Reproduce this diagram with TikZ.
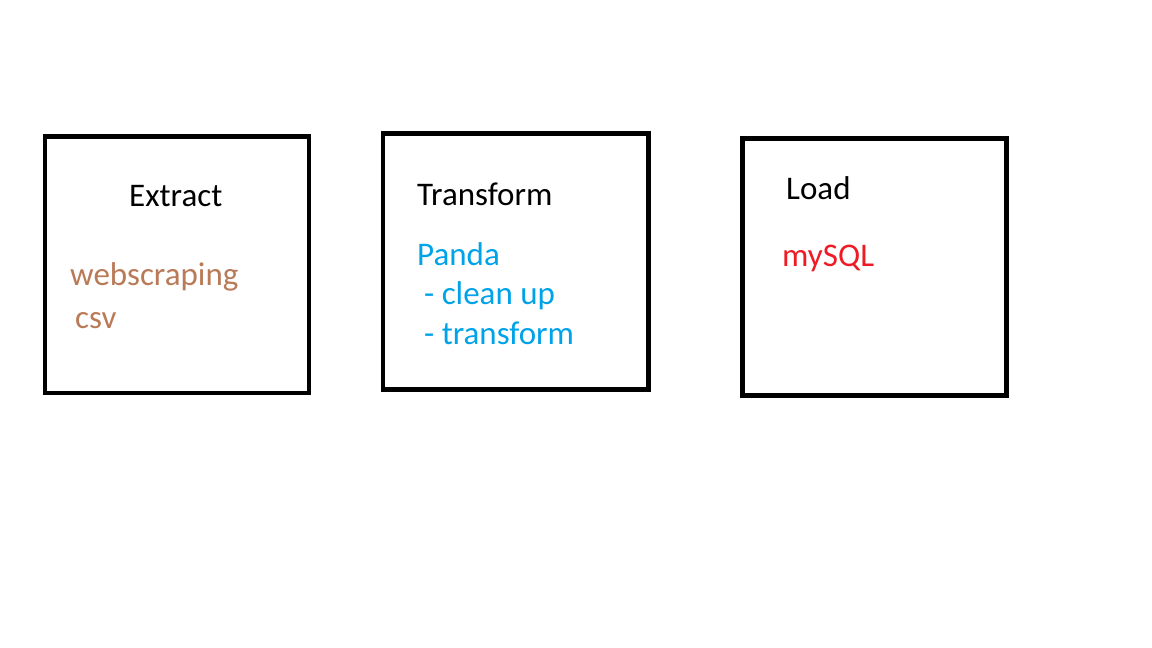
\documentclass[tikz,border=0pt]{standalone}
\usepackage{fontspec}
\setmainfont{Carlito}
\definecolor{paintbrown}{RGB}{185,122,87}
\definecolor{paintblue}{RGB}{0,162,232}
\definecolor{paintred}{RGB}{237,28,36}
\begin{document}
\begin{tikzpicture}[x=1pt,y=-1pt,
  stagebox/.style={draw=black,line width=4.5pt,rectangle,inner sep=0pt},
  lbl/.style={anchor=base west,inner sep=0pt,font=\fontsize{33}{39}\selectfont}]
\useasboundingbox (0,0) rectangle (1152,648);
% boxes
\node[stagebox,minimum width=264pt,minimum height=256.5pt] (ext) at (177,264.75) {};
\node[stagebox,minimum width=265.5pt,minimum height=256.4pt] (tra) at (515.75,261.5) {};
\node[stagebox,minimum width=264.2pt,minimum height=256.8pt] (lod) at (874.6,267.1) {};
% Extract
\node[lbl] (extT) at (129,206) {Extract};
\node[lbl,text=paintbrown] (ext1) at (70,285) {webscraping};
\node[lbl,text=paintbrown] (ext2) at (75,328) {csv};
% Transform
\node[lbl] (traT) at (417,205) {Transform};
\node[lbl,text=paintblue] (tra1) at (417,265) {Panda};
\node[lbl,text=paintblue] (tra2) at (424,304) {- clean up};
\node[lbl,text=paintblue] (tra3) at (424,344) {- transform};
% Load
\node[lbl] (lodT) at (786,199) {Load};
\node[lbl,text=paintred] (lod1) at (782,266) {mySQL};
\end{tikzpicture}
\end{document}
